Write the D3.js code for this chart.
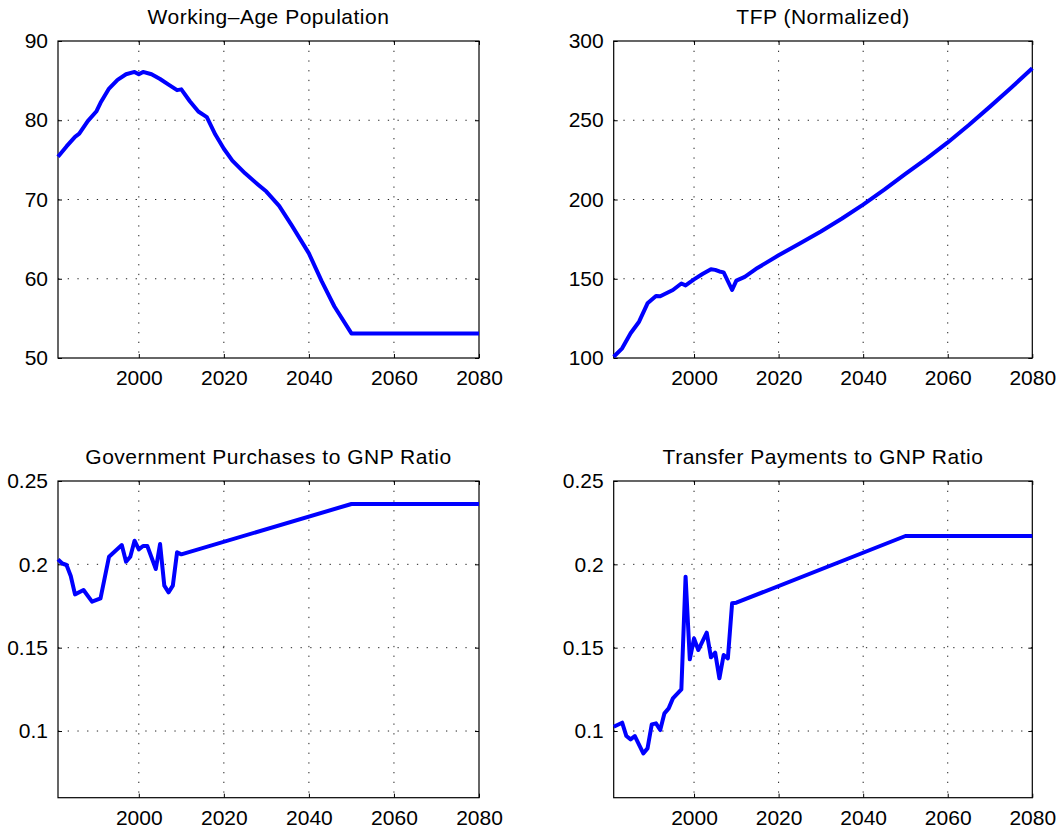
<!DOCTYPE html>
<html><head><meta charset="utf-8">
<script src="https://cdn.jsdelivr.net/npm/d3@7"></script>
<style>
html,body{margin:0;padding:0;background:#fff;}
text{font-family:"Liberation Sans",Arial,Helvetica,sans-serif;fill:#000;}
</style></head>
<body><svg id="chart" width="1064" height="832"></svg>
<script>
// ---------- data ----------
const popYears  = [1981,1983,1985,1986,1988,1990,1991,1993,1995,1997,1999,2000,2001,2003,2005,2007,2009,2010,2012,2014,2016,2018,2020,2022,2025,2028,2030,2033,2036,2040,2043,2046,2050,2080];
const popValues = [75.4,76.7,77.9,78.3,79.9,81.1,82.2,84.0,85.1,85.8,86.1,85.8,86.1,85.8,85.2,84.5,83.8,83.9,82.4,81.1,80.4,78.2,76.4,74.9,73.3,71.9,71.0,69.2,66.7,63.2,59.7,56.5,53.1,53.1];

const tfpYears  = [1981,1983,1985,1987,1989,1991,1992,1995,1997,1998,2000,2002,2004,2005,2006,2007,2009,2010,2012,2015,2020,2025,2030,2035,2040,2045,2050,2055,2060,2065,2070,2075,2080];
const tfpValues = [100.8,106.1,115.6,122.9,134.5,139.1,139.0,142.9,147.0,145.8,149.6,153.0,156.0,155.6,154.6,154.0,142.9,148.8,151.2,156.8,164.8,172.2,179.8,188.0,196.8,206.2,216.2,225.8,236.0,247.0,258.6,270.5,282.8];

const govYears  = [1981,1982,1983,1984,1985,1987,1989,1991,1993,1996,1997,1998,1999,2000,2001,2002,2004,2005,2006,2007,2008,2009,2010,2050,2080];
const govValues = [0.203,0.2005,0.1996,0.193,0.182,0.1846,0.1776,0.1796,0.2046,0.2116,0.2016,0.2046,0.2142,0.209,0.211,0.211,0.1972,0.2122,0.1872,0.1832,0.1872,0.2072,0.206,0.2362,0.2362];

const trfYears  = [1981,1983,1984,1985,1986,1988,1989,1990,1991,1992,1993,1994,1995,1997,1998,1999,2000,2001,2003,2004,2005,2006,2007,2008,2009,2010,2050,2080];
const trfValues = [0.1026,0.105,0.097,0.095,0.097,0.0866,0.0896,0.104,0.1046,0.1006,0.1106,0.1136,0.1196,0.125,0.1926,0.143,0.1556,0.1486,0.159,0.1442,0.147,0.1316,0.1456,0.1436,0.1766,0.177,0.217,0.217];

const xTicks = [2000,2020,2040,2060,2080];
const popTicks = [50,60,70,80,90];
const tfpTicks = [100,150,200,250,300];
const ratioTicks = [0.1,0.15,0.2,0.25];

const panels = [
  {title:"Working\u2013Age Population", x:[58,479], y:[41,358], xd:[1981,2080], yd:[50,90], yt:popTicks, xs:popYears, ys:popValues},
  {title:"TFP (Normalized)", x:[613.7,1032.3], y:[41,358], xd:[1981,2080], yd:[100,300], yt:tfpTicks, xs:tfpYears, ys:tfpValues},
  {title:"Government Purchases to GNP Ratio", x:[58,479], y:[481,797.7], xd:[1981,2080], yd:[0.06,0.25], yt:ratioTicks, xs:govYears, ys:govValues},
  {title:"Transfer Payments to GNP Ratio", x:[613.7,1032.3], y:[481,797.7], xd:[1981,2080], yd:[0.06,0.25], yt:ratioTicks, xs:trfYears, ys:trfValues}
];

const svg = d3.select("#chart");
const FS = 21;

panels.forEach(p => {
  const xs = d3.scaleLinear().domain(p.xd).range(p.x);
  const ys = d3.scaleLinear().domain(p.yd).range([p.y[1], p.y[0]]);
  const g = svg.append("g");
  const [x0,x1] = p.x, [y0,y1] = p.y;

  // grid
  g.selectAll(".vg").data(xTicks.filter(t=>t<p.xd[1])).join("line")
    .attr("x1",d=>xs(d)).attr("x2",d=>xs(d)).attr("y1",y0).attr("y2",y1)
    .attr("stroke","#222").attr("stroke-width",1).attr("stroke-dasharray","1.3,8.4");
  g.selectAll(".hg").data(p.yt.filter(t=>t<p.yd[1] && t>p.yd[0])).join("line")
    .attr("y1",d=>ys(d)).attr("y2",d=>ys(d)).attr("x1",x0).attr("x2",x1)
    .attr("stroke","#222").attr("stroke-width",1).attr("stroke-dasharray","1.3,8.4");

  // axes with inward ticks
  const xb = d3.axisBottom(xs).tickValues(xTicks).tickSizeInner(-4).tickSizeOuter(0).tickPadding(12).tickFormat(d3.format("d"));
  const xt = d3.axisTop(xs).tickValues(xTicks).tickSizeInner(-4).tickSizeOuter(0).tickFormat("");
  const yl = d3.axisLeft(ys).tickValues(p.yt).tickSizeInner(-4).tickSizeOuter(0).tickPadding(10).tickFormat(d=>String(d));
  const yr = d3.axisRight(ys).tickValues(p.yt).tickSizeInner(-4).tickSizeOuter(0).tickFormat("");
  [ [xb,`translate(0,${y1})`], [xt,`translate(0,${y0})`], [yl,`translate(${x0},0)`], [yr,`translate(${x1},0)`] ].forEach(([ax,tr])=>{
    const a = g.append("g").attr("transform",tr).call(ax);
    a.select(".domain").remove();
    a.selectAll("line").attr("stroke","#000").attr("stroke-width",1);
    a.selectAll("text").attr("font-size",FS).attr("font-family","Liberation Sans, Arial, sans-serif").attr("fill","#000");
  });

  // frame
  g.append("rect").attr("x",x0).attr("y",y0).attr("width",x1-x0).attr("height",y1-y0)
    .attr("fill","none").attr("stroke","#000").attr("stroke-width",1.2);

  // line
  const line = d3.line().x((d,i)=>xs(p.xs[i])).y(d=>ys(d));
  g.append("path").datum(p.ys).attr("d",line).attr("fill","none")
    .attr("stroke","#0000ff").attr("stroke-width",4).attr("stroke-linejoin","round");

  // title
  g.append("text").attr("x",(x0+x1)/2).attr("y",y0-17).attr("text-anchor","middle")
    .attr("font-size",21).attr("letter-spacing","0.5px").text(p.title);
});
</script></body></html>
